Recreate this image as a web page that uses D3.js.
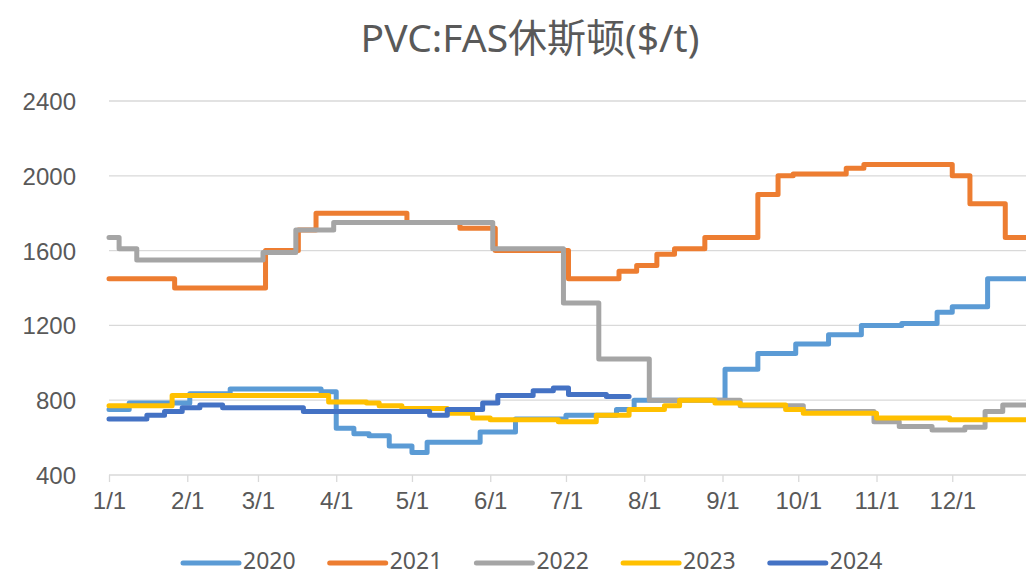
<!DOCTYPE html>
<html lang="zh">
<head>
<meta charset="UTF-8" />
<title>PVC:FAS休斯顿</title>
<style>
    body { margin: 0; background: #fff; font-family: "Noto Sans", "Noto Sans CJK SC", sans-serif; }
    svg { display: block; overflow: hidden; }
    .grid line { stroke: #d9d9d9; stroke-width: 1.3px; }
    .axis text { fill: #595959; font-size: 24px; }
    .series { fill: none; stroke-width: 5px; stroke-linejoin: round; stroke-linecap: round; }
</style>
</head>
<body>
<svg width="1026" height="576"></svg>
<script src="https://d3js.org/d3.v7.min.js"></script>
<script>
// each series: [month-day the price starts, price $/t]
const years = ['2020', '2021', '2022', '2023', '2024'];
const colors = ['#5b9bd5', '#ed7d31', '#a5a5a5', '#ffc000', '#4472c4'];
const yTicks = [400, 800, 1200, 1600, 2000, 2400];
const monthTicks = ['1/1', '2/1', '3/1', '4/1', '5/1', '6/1', '7/1', '8/1', '9/1', '10/1', '11/1', '12/1'];

const s2020 = [['01-01', 750], ['01-09', 785], ['02-02', 835], ['02-18', 860], ['03-26', 845], ['04-01', 650],
    ['04-08', 620], ['04-14', 610], ['04-22', 555], ['05-01', 520], ['05-07', 575], ['05-28', 630], ['06-11', 700],
    ['07-01', 720], ['07-21', 750], ['07-28', 800], ['09-02', 965], ['09-15', 1050], ['09-30', 1100], ['10-13', 1150],
    ['10-26', 1200], ['11-11', 1210], ['11-25', 1270], ['12-01', 1300], ['12-15', 1450], ['12-31', 1450]];
const s2021 = [['01-01', 1450], ['01-27', 1400], ['03-04', 1600], ['03-17', 1710], ['03-24', 1800], ['04-29', 1750],
    ['05-20', 1720], ['06-03', 1600], ['07-02', 1450], ['07-22', 1490], ['07-29', 1520], ['08-06', 1580], ['08-13', 1610],
    ['08-25', 1670], ['09-15', 1900], ['09-23', 2000], ['09-29', 2010], ['10-20', 2040], ['10-27', 2060], ['12-01', 2000],
    ['12-08', 1850], ['12-22', 1670], ['12-31', 1670]];
const s2022 = [['01-01', 1670], ['01-05', 1610], ['01-12', 1550], ['03-03', 1590], ['03-16', 1710], ['03-31', 1750],
    ['06-02', 1610], ['06-30', 1320], ['07-14', 1020], ['08-03', 800], ['09-08', 770], ['10-03', 740], ['10-31', 685],
    ['11-10', 660], ['11-23', 640], ['12-06', 655], ['12-14', 740], ['12-21', 775], ['12-31', 775]];
const s2023 = [['01-01', 770], ['01-26', 825], ['03-29', 790], ['04-13', 785], ['04-18', 770], ['04-27', 755],
    ['05-15', 730], ['05-25', 705], ['06-01', 695], ['06-28', 685], ['07-13', 720], ['07-26', 750], ['08-09', 770],
    ['08-15', 800], ['08-29', 785], ['09-08', 775], ['09-26', 750], ['10-03', 730], ['11-01', 705], ['11-30', 695],
    ['12-31', 695]];
const s2024 = [['01-01', 700], ['01-16', 720], ['01-23', 740], ['01-30', 760], ['02-06', 775], ['02-15', 760],
    ['03-19', 740], ['05-08', 720], ['05-15', 750], ['05-29', 785], ['06-04', 825], ['06-18', 850], ['06-26', 865],
    ['07-02', 830], ['07-17', 820], ['07-26', 820]];
const seriesList = [s2020, s2021, s2022, s2023, s2024];

const width = 1026, height = 576;
const svg = d3.select('svg');

const parse = d3.timeParse('%Y-%m-%d');
const day = (md) => parse('2021-' + md);

const x = d3.scaleTime().domain([day('01-01'), day('12-31')]).range([109, 1028]);
const y = d3.scaleLinear().domain([400, 2400]).range([475, 101]);

// title
svg.append('text')
    .attr('x', 530).attr('y', 52)
    .attr('text-anchor', 'middle')
    .style('font-size', '39px').style('fill', '#595959')
    .text('PVC:FAS休斯顿($/t)');

// grid
svg.append('g').attr('class', 'grid')
    .selectAll('line')
    .data(yTicks.slice(1))
    .join('line')
    .attr('x1', 109).attr('x2', width)
    .attr('y1', (d) => y(d)).attr('y2', (d) => y(d));

// y axis labels
const yAxis = svg.append('g').attr('class', 'axis').attr('transform', 'translate(76,0)')
    .call(d3.axisLeft(y).tickValues(yTicks).tickFormat(d3.format('d')).tickSize(0).tickPadding(0));
yAxis.select('.domain').remove();
yAxis.selectAll('text').attr('dy', '0.35em');

// x axis
const monthDates = monthTicks.map((t) => {
    const [m, dd] = t.split('/');
    return day(m.padStart(2, '0') + '-' + dd.padStart(2, '0'));
});
const xAxis = svg.append('g').attr('class', 'axis').attr('transform', `translate(0,${y(400)})`)
    .call(d3.axisBottom(x).tickValues(monthDates).tickSize(7).tickPadding(10)
        .tickFormat((d, i) => monthTicks[i]));
xAxis.select('.domain').attr('d', `M109,0H${width}`).attr('stroke', '#d9d9d9').attr('stroke-width', 1.3);
xAxis.selectAll('.tick line').attr('stroke', '#d9d9d9').attr('stroke-width', 1.3);

// lines
const line = d3.line()
    .x((d) => x(day(d[0])))
    .y((d) => y(d[1]))
    .curve(d3.curveStepAfter);

svg.append('g')
    .selectAll('path')
    .data(seriesList)
    .join('path')
    .attr('class', 'series')
    .attr('stroke', (d, i) => colors[i])
    .attr('d', line);

// legend
const legend = svg.append('g').attr('transform', 'translate(183,563)');
const item = legend.selectAll('g')
    .data(years)
    .join('g')
    .attr('transform', (d, i) => `translate(${i * 146.7},0)`);
item.append('line')
    .attr('x1', 0).attr('x2', 56).attr('y1', 0).attr('y2', 0)
    .attr('stroke', (d, i) => colors[i])
    .attr('stroke-width', 5).attr('stroke-linecap', 'round');
item.append('text')
    .attr('x', 60).attr('y', 6)
    .style('font-size', '23px').style('fill', '#595959')
    .text((d) => d);
</script>
</body>
</html>
